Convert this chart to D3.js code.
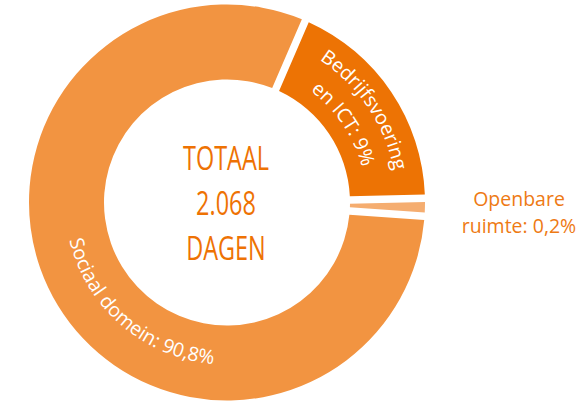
<!DOCTYPE html>
<html>
<head>
<meta charset="utf-8">
<script src="https://cdn.jsdelivr.net/npm/d3@7"></script>
<style>
  html, body { margin: 0; padding: 0; background: #ffffff; }
  svg { display: block; }
</style>
</head>
<body>
<svg id="chart" width="582" height="401"></svg>
<script>
// ---- data ----
const categories   = ["Bedrijfsvoering en ICT", "Openbare ruimte", "Sociaal domein"];
const percentLabels = ["9%", "0,2%", "90,8%"];
// share of the ring as it is drawn in the picture (degrees of the circle)
const drawnShare   = [65.5, 5.2, 289.3];
const sliceColors  = ["#ED7304", "#F5AD70", "#F29441"];
const centerLines  = ["TOTAAL", "2.068", "DAGEN"];

// ---- layout ----
const W = 582, H = 401;
const cx = 227, cy = 202.5;
const outerR = 198, innerR = 123;
const gap = 7.5, padR = 160;
const startDeg = 23.3;
const rad = d => d * Math.PI / 180;

const svg = d3.select("#chart");
const g = svg.append("g").attr("transform", `translate(${cx},${cy})`);

const pie = d3.pie().sort(null).value(d => d)
  .startAngle(rad(startDeg)).endAngle(rad(startDeg + 360));
const arcs = pie(drawnShare);

const arc = d3.arc()
  .innerRadius(innerR).outerRadius(outerR)
  .padAngle(gap / padR).padRadius(padR);

g.selectAll("path.slice").data(arcs).join("path")
  .attr("class", "slice")
  .attr("d", arc)
  .attr("fill", (d, i) => sliceColors[i]);

const pt = (a, r) => [r * Math.sin(a), -r * Math.cos(a)];
function arcPath(center, half, r, clockwise) {
  const a1 = clockwise ? center - half : center + half;
  const a2 = clockwise ? center + half : center - half;
  const p1 = pt(a1, r), p2 = pt(a2, r);
  return `M${p1[0]},${p1[1]} A${r},${r} 0 0 ${clockwise ? 1 : 0} ${p2[0]},${p2[1]}`;
}

const defs = svg.append("defs");
const labelFont = "'Open Sans', 'Noto Sans', sans-serif";

function curvedLabel(id, center, r, clockwise, text, color, size) {
  defs.append("path").attr("id", id).attr("d", arcPath(center, rad(80), r, clockwise));
  g.append("text")
    .attr("font-family", labelFont)
    .attr("font-size", size)
    .attr("fill", color)
    .append("textPath")
    .attr("href", "#" + id)
    .attr("startOffset", "50%")
    .attr("text-anchor", "middle")
    .text(text);
}

// Bedrijfsvoering en ICT: two lines along the slice, centred on its middle
const b = arcs[0];
const bMid = (b.startAngle + b.endAngle) / 2;
curvedLabel("pB1", bMid, 170, true, "Bedrijfsvoering", "#ffffff", 19.5);
curvedLabel("pB2", bMid, 139.5, true, "en ICT: " + percentLabels[0], "#ffffff", 19.5);

// Sociaal domein
curvedLabel("pS", rad(220.7), 162, false, categories[2].replace(" domein", " domein") + ": " + percentLabels[2], "#ffffff", 19.5);

// Openbare ruimte (outside, straight)
const oText = svg.append("text")
  .attr("font-family", labelFont)
  .attr("font-size", 19.5)
  .attr("fill", "#EE7A14")
  .attr("text-anchor", "middle");
oText.append("tspan").attr("x", 519).attr("y", 206).text("Openbare");
oText.append("tspan").attr("x", 519).attr("y", 233).text("ruimte: " + percentLabels[1]);

// centre text, condensed
const centerG = svg.append("g");
const lineY = [170, 215, 260];
const lines = centerG.selectAll("text").data(centerLines).join("text")
  .attr("font-family", "'Open Sans', sans-serif")
  .attr("font-size", 33)
  .attr("fill", "#EE7203")
  .attr("text-anchor", "middle")
  .text(d => d);
const w0 = lines.nodes()[0].getComputedTextLength();
const sx = 86 / w0;
lines.attr("transform", (d, i) => `translate(226,${lineY[i]}) scale(${sx},1)`);
</script>
</body>
</html>
